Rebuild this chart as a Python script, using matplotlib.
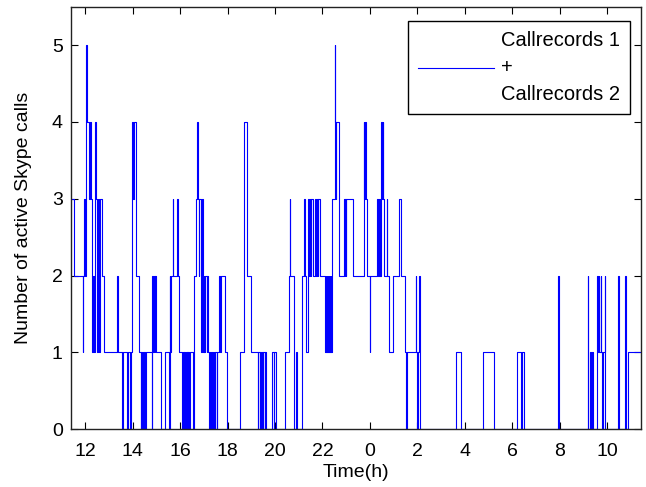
import matplotlib
matplotlib.use("Agg")
import matplotlib.pyplot as plt
import numpy as np

plt.rcParams['font.family'] = ['Liberation Sans', 'DejaVu Sans']

# change times (hours since midnight of day 1) and the call count from that time on
change_times = [
    11.40, 11.51, 11.89, 11.91, 11.96, 11.99, 12.03, 12.06, 12.16, 12.18,
    12.22, 12.27, 12.28, 12.32, 12.35, 12.39, 12.41, 12.43, 12.45, 12.51,
    12.53, 12.57, 12.60, 12.69, 12.79, 13.34, 13.36, 13.53, 13.57, 13.77,
    13.81, 13.90, 13.93, 13.95, 13.99, 14.03, 14.06, 14.14, 14.27, 14.33,
    14.35, 14.40, 14.42, 14.47, 14.49, 14.53, 14.55, 14.80, 14.82, 14.86,
    14.88, 14.92, 14.94, 14.97, 15.21, 15.38, 15.52, 15.55, 15.58, 15.60,
    15.68, 15.70, 15.87, 15.89, 15.95, 16.09, 16.11, 16.15, 16.17, 16.21,
    16.23, 16.27, 16.29, 16.33, 16.35, 16.39, 16.41, 16.55, 16.57, 16.65,
    16.72, 16.74, 16.79, 16.81, 16.88, 16.90, 16.95, 16.97, 16.99, 17.02,
    17.05, 17.12, 17.14, 17.18, 17.23, 17.25, 17.32, 17.34, 17.39, 17.41,
    17.46, 17.48, 17.55, 17.57, 17.65, 17.68, 17.70, 17.88, 17.97, 18.54,
    18.69, 18.81, 18.97, 19.26, 19.28, 19.35, 19.37, 19.42, 19.44, 19.49,
    19.51, 19.56, 19.58, 19.61, 19.88, 19.95, 19.97, 20.05, 20.44, 20.57,
    20.61, 20.63, 20.80, 20.88, 20.93, 21.14, 21.24, 21.26, 21.30, 21.37,
    21.40, 21.44, 21.46, 21.50, 21.52, 21.60, 21.70, 21.74, 21.76, 21.80,
    21.82, 21.91, 22.12, 22.14, 22.16, 22.18, 22.20, 22.22, 22.24, 22.26,
    22.28, 22.30, 22.32, 22.34, 22.36, 22.38, 22.40, 22.42, 22.52, 22.53,
    22.56, 22.58, 22.69, 22.91, 22.93, 22.95, 22.97, 22.99, 23.29, 23.75,
    23.77, 23.79, 23.85, 23.89, 24.00, 24.01, 24.31, 24.35, 24.37, 24.44,
    24.48, 24.50, 24.53, 24.55, 24.60, 24.73, 24.74, 24.79, 24.97, 25.21,
    25.30, 25.47, 25.53, 25.55, 25.93, 25.94, 26.00, 26.01, 26.08, 26.09,
    26.10, 27.64, 27.83, 28.75, 29.24, 30.18, 30.35, 30.39, 30.51, 31.94,
    31.95, 33.20, 33.21, 33.27, 33.34, 33.35, 33.41, 33.59, 33.60, 33.65,
    33.66, 33.72, 33.73, 33.80, 33.82, 33.90, 33.91, 33.93, 34.47, 34.48,
    34.52, 34.77, 34.78, 34.86, 35.42,
]
active_calls = [
    3, 2, 1, 2, 3, 2, 5, 4, 3, 4,
    3, 2, 1, 2, 1, 2, 1, 4, 3, 1,
    3, 1, 3, 2, 1, 2, 1, 0, 1, 0,
    1, 0, 1, 3, 4, 3, 4, 2, 1, 0,
    1, 0, 1, 0, 1, 0, 1, 0, 2, 1,
    2, 1, 2, 1, 0, 1, 0, 2, 1, 2,
    3, 2, 3, 2, 1, 0, 1, 0, 1, 0,
    1, 0, 1, 0, 1, 0, 1, 0, 2, 3,
    4, 3, 2, 3, 1, 3, 2, 1, 2, 1,
    2, 1, 2, 1, 0, 1, 0, 1, 0, 1,
    0, 1, 0, 1, 2, 1, 2, 1, 0, 1,
    4, 2, 1, 0, 1, 0, 1, 0, 1, 0,
    1, 0, 1, 0, 1, 0, 1, 0, 1, 2,
    3, 2, 0, 1, 0, 2, 3, 2, 1, 2,
    3, 2, 3, 2, 3, 2, 3, 2, 3, 2,
    3, 2, 1, 2, 1, 2, 1, 2, 1, 2,
    1, 2, 1, 2, 1, 2, 1, 3, 5, 4,
    3, 4, 2, 3, 2, 3, 2, 3, 2, 4,
    3, 4, 3, 2, 1, 2, 3, 2, 3, 2,
    4, 3, 4, 3, 2, 3, 2, 1, 2, 3,
    2, 1, 0, 1, 2, 1, 0, 1, 2, 1,
    0, 1, 0, 1, 0, 1, 0, 1, 0, 2,
    0, 2, 0, 1, 0, 1, 0, 2, 1, 2,
    1, 2, 1, 0, 1, 2, 1, 0, 2, 1,
    0, 2, 0, 1, 1,
]

tick_hours = [12, 14, 16, 18, 20, 22, 24, 26, 28, 30, 32, 34]
tick_labels = ['12', '14', '16', '18', '20', '22', '0', '2', '4', '6', '8', '10']

fig = plt.figure(figsize=(6.46, 4.87), dpi=100)
ax = fig.add_axes([0.110, 0.119, 0.882, 0.867])

ax.step(change_times, active_calls, where='post', color='#0000ff', linewidth=0.8,
        label='Callrecords 1\n+\nCallrecords 2')

ax.set_xlim(11.40, 35.42)
ax.set_ylim(0, 5.5)
ax.set_xticks(tick_hours)
ax.set_xticklabels(tick_labels)
ax.set_yticks(range(6))

ax.tick_params(direction='in', top=True, right=True, length=5, width=0.8,
               labelsize=14)
ax.tick_params(axis='x', pad=10)
ax.tick_params(axis='y', pad=6)
for s in ax.spines.values():
    s.set_linewidth(1.0)
    s.set_color('#222222')

ax.set_xlabel('Time(h)', fontsize=14)
ax.set_ylabel('Number of active Skype calls', fontsize=14)
ax.xaxis.set_label_coords(0.5, -0.083)
ax.yaxis.set_label_coords(-0.068, 0.5)

leg = ax.legend(loc='upper right', bbox_to_anchor=(0.981, 0.967), borderaxespad=0,
                fancybox=False, framealpha=1, edgecolor='black', fontsize=14.5,
                handlelength=3.75, handletextpad=0.36, borderpad=0.5)
leg.get_frame().set_linewidth(1.0)
for t in leg.get_texts():
    t.set_linespacing(1.55)

fig.savefig('out.png', dpi=100)
